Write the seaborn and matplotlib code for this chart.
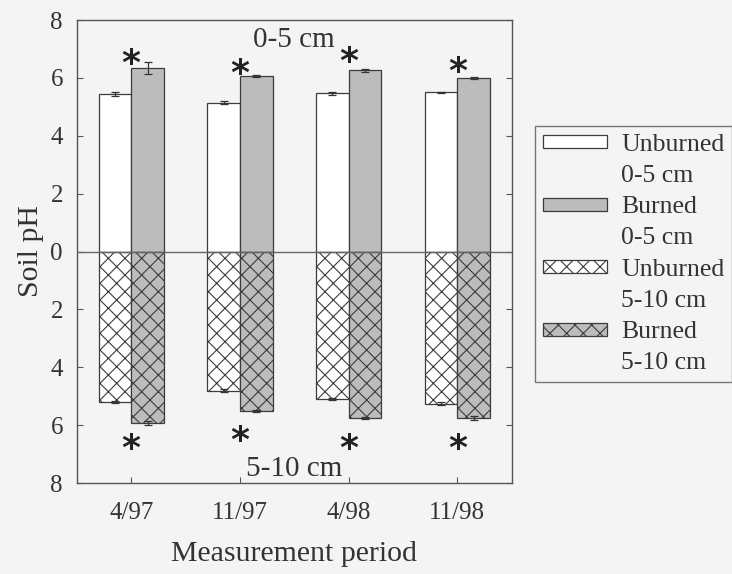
import matplotlib
matplotlib.use("Agg")
import matplotlib.pyplot as plt
import matplotlib.transforms as mtransforms
import seaborn as sns
import pandas as pd
import numpy as np
from matplotlib.patches import Patch
from matplotlib.ticker import FuncFormatter, MultipleLocator

periods = ["4/97", "11/97", "4/98", "11/98"]
treatments = ["Unburned", "Burned"]

unburned_top = [5.45, 5.15, 5.47, 5.50]
burned_top = [6.35, 6.07, 6.27, 6.00]
unburned_top_se = [0.06, 0.05, 0.06, 0.02]
burned_top_se = [0.20, 0.03, 0.05, 0.05]

unburned_bot = [5.20, 4.81, 5.10, 5.26]
burned_bot = [5.93, 5.51, 5.76, 5.76]
unburned_bot_se = [0.05, 0.05, 0.03, 0.05]
burned_bot_se = [0.06, 0.04, 0.04, 0.06]

star_top = [6.80, 6.45, 6.85, 6.50]
star_bot = [6.50, 6.25, 6.50, 6.50]

legend_first = ["Unburned", "Burned", "Unburned", "Burned"]
legend_second = ["0-5 cm", "0-5 cm", "5-10 cm", "5-10 cm"]

sns.set_theme(style="white")
plt.rcParams["font.family"] = ["Liberation Serif", "DejaVu Serif"]
plt.rcParams["hatch.linewidth"] = 0.8
plt.rcParams["hatch.color"] = "#444444"

bg = "#f4f4f4"
fig = plt.figure(figsize=(7.32, 5.74), dpi=100, facecolor=bg)
ax = fig.add_axes([0.105, 0.1585, 0.594, 0.8065], facecolor=bg)

df_top = pd.DataFrame({
    "period": periods * 2,
    "treatment": ["Unburned"] * 4 + ["Burned"] * 4,
    "pH": unburned_top + burned_top,
})
df_bot = pd.DataFrame({
    "period": periods * 2,
    "treatment": ["Unburned"] * 4 + ["Burned"] * 4,
    "pH": [-v for v in unburned_bot + burned_bot],
})

pal = {"Unburned": "white", "Burned": "#bcbcbc"}
edge = "#3c3c3c"

sns.barplot(data=df_top, x="period", y="pH", hue="treatment", order=periods,
            hue_order=treatments, palette=pal, width=0.6, edgecolor=edge,
            linewidth=0.9, ax=ax, legend=False, errorbar=None)
n_top = len(ax.patches)
sns.barplot(data=df_bot, x="period", y="pH", hue="treatment", order=periods,
            hue_order=treatments, palette=pal, width=0.6, edgecolor=edge,
            linewidth=0.9, ax=ax, legend=False, errorbar=None)
for p in ax.patches[n_top:]:
    p.set_hatch("xx")

def bar_centers(patches):
    return [p.get_x() + p.get_width() / 2 for p in patches]

pt = ax.patches[:n_top]
pb = ax.patches[n_top:]
ct = bar_centers(pt)
cb = bar_centers(pb)
vals_top = unburned_top + burned_top
se_top = unburned_top_se + burned_top_se
vals_bot = [-v for v in unburned_bot + burned_bot]
se_bot = unburned_bot_se + burned_bot_se
ax.errorbar(ct, vals_top, yerr=se_top, fmt="none", ecolor="#333333",
            elinewidth=0.9, capsize=3, capthick=0.9, zorder=5)
ax.errorbar(cb, vals_bot, yerr=se_bot, fmt="none", ecolor="#333333",
            elinewidth=0.9, capsize=3, capthick=0.9, zorder=5)

# asterisks (glyph sits high in its box, so shift down a few pixels)
star_tr = mtransforms.offset_copy(ax.transData, fig=fig, x=0, y=-9, units="dots")
xs = np.arange(len(periods))
for i in range(len(periods)):
    ax.text(xs[i], star_top[i], "*", ha="center", va="center", transform=star_tr,
            fontsize=26, fontweight="bold", color="#222222", family=["DejaVu Sans"])
    ax.text(xs[i], -star_bot[i], "*", ha="center", va="center", transform=star_tr,
            fontsize=26, fontweight="bold", color="#222222", family=["DejaVu Sans"])

ax.axhline(0, color="#666666", lw=1.0, zorder=4)

ax.text(1.5, 7.3, "0-5 cm", ha="center", va="center", fontsize=21, color="#333333")
ax.text(1.5, -7.5, "5-10 cm", ha="center", va="center", fontsize=21, color="#333333")

ax.set_xlim(-0.5, 3.5)
ax.set_ylim(-8, 8)
ax.yaxis.set_major_locator(MultipleLocator(2))
ax.yaxis.set_major_formatter(FuncFormatter(lambda v, pos: f"{abs(int(round(v)))}"))
ax.tick_params(axis="both", direction="in", length=4, width=0.8, colors="#555555",
               labelsize=18, labelcolor="#333333")
ax.tick_params(axis="y", right=True, left=True, pad=10)
ax.tick_params(axis="x", bottom=True, pad=14)
ax.set_xlabel("Measurement period", fontsize=21.5, color="#333333", labelpad=12)
ax.set_ylabel("Soil pH", fontsize=21.5, color="#333333", labelpad=5)
for s in ax.spines.values():
    s.set_color("#555555")
    s.set_linewidth(1.0)

styles = [
    dict(facecolor="white"),
    dict(facecolor="#bcbcbc"),
    dict(facecolor="white", hatch="xx"),
    dict(facecolor="#bcbcbc", hatch="xx"),
]
handles, labels = [], []
for st, l1, l2 in zip(styles, legend_first, legend_second):
    handles.append(Patch(edgecolor=edge, linewidth=0.9, **st))
    labels.append(l1)
    handles.append(Patch(facecolor="none", edgecolor="none", linewidth=0))
    labels.append(l2)

leg = fig.legend(handles, labels, loc="upper left", bbox_to_anchor=(0.731, 0.7805),
                 fontsize=18.5, frameon=True, fancybox=False, handlelength=2.5,
                 handleheight=0.4, handletextpad=0.55, labelspacing=0.36,
                 borderpad=0.3, borderaxespad=0.0)
leg.get_frame().set_edgecolor("#555555")
leg.get_frame().set_linewidth(1.0)
leg.get_frame().set_facecolor(bg)
for t in leg.get_texts():
    t.set_color("#333333")

fig.savefig("out.png", dpi=100, facecolor=bg)
